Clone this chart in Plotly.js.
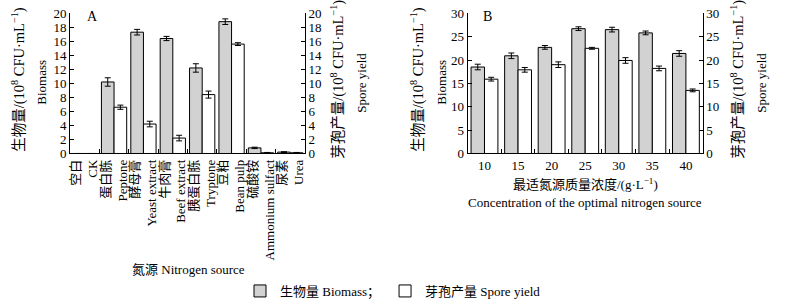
<!DOCTYPE html>
<html><head><meta charset="utf-8">
<script src="https://cdn.plot.ly/plotly-3.0.1.min.js"></script>
<style>html,body{margin:0;padding:0;background:#fff}#c{width:794px;height:306px}</style>
</head><body><div id="c"></div>
<script>
var catsA = ['空白<br>CK','蛋白胨<br>Peptone','酵母膏<br>Yeast extract','牛肉膏<br>Beef extract','胰蛋白胨<br>Tryptone','豆粕<br>Bean pulp','硫酸铵<br>Ammonium sulfact','尿素<br>Urea'];
var biomassA = [0, 10.2, 17.3, 16.4, 12.2, 18.8, 0.8, 0.2];
var biomassErrA = [0, 0.6, 0.4, 0.3, 0.6, 0.4, 0.1, 0.05];
var sporeA = [0, 6.6, 4.2, 2.2, 8.4, 15.6, 0.1, 0.1];
var sporeErrA = [0, 0.3, 0.4, 0.4, 0.5, 0.2, 0.05, 0.05];

var catsB = ['10','15','20','25','30','35','40'];
var biomassB = [18.5, 20.9, 22.7, 26.7, 26.5, 25.8, 21.4];
var biomassErrB = [0.6, 0.6, 0.4, 0.4, 0.5, 0.4, 0.6];
var sporeB = [15.9, 17.9, 19.0, 22.5, 19.9, 18.2, 13.5];
var sporeErrB = [0.4, 0.5, 0.6, 0.2, 0.6, 0.5, 0.3];

var ticksA = [0,2,4,6,8,10,12,14,16,18,20];
var ticksB = [0,5,10,15,20,25,30];

var gray = '#d2d2d2';
var serif = 'Liberation Serif, Times New Roman, Noto Sans CJK SC, serif';
var err = function(a){return {type:'data', array:a, visible:true, color:'#000', thickness:1, width:3};};

var traces = [
  {type:'bar', name:'生物量 Biomass；', x:catsA, y:biomassA, xaxis:'x', yaxis:'y', width:0.43, offset:-0.43,
   marker:{color:gray, line:{color:'#000', width:1}}, error_y:err(biomassErrA)},
  {type:'bar', name:'芽孢产量 Spore yield', x:catsA, y:sporeA, xaxis:'x', yaxis:'y2', width:0.43, offset:0,
   marker:{color:'#fff', line:{color:'#000', width:1}}, error_y:err(sporeErrA)},
  {type:'bar', name:'生物量 Biomass；', x:catsB, y:biomassB, xaxis:'x2', yaxis:'y3', width:0.4, offset:-0.4, showlegend:false,
   marker:{color:gray, line:{color:'#000', width:1}}, error_y:err(biomassErrB)},
  {type:'bar', name:'芽孢产量 Spore yield', x:catsB, y:sporeB, xaxis:'x2', yaxis:'y4', width:0.4, offset:0, showlegend:false,
   marker:{color:'#fff', line:{color:'#000', width:1}}, error_y:err(sporeErrB)}
];

var yd = [1-154/306, 1-13.3/306];
var axBase = {showline:true, linecolor:'#000', linewidth:1, ticks:'inside', ticklen:4, tickcolor:'#000',
  showgrid:false, zeroline:false, tickfont:{family:serif, size:13, color:'#000'}};
function ax(o){ return Object.assign({}, axBase, o); }

function ann(text, x, y, angle, size){
  return {text:text, x:x, y:y, xref:'paper', yref:'paper', showarrow:false, textangle:angle||0,
    font:{family:serif, size:size||13, color:'#000'}, xanchor:'center', yanchor:'middle'};
}
var W = 794, H = 306;
var layout = {
  width:W, height:H, margin:{l:0,r:0,t:0,b:0}, paper_bgcolor:'#fff', plot_bgcolor:'#fff',
  barmode:'overlay', font:{family:serif, color:'#000'},
  xaxis: ax({domain:[70/W, 305/W], anchor:'y', type:'category', tickson:'boundaries', tickangle:-90,
    tickfont:{family:serif, size:13, color:'#000'}, range:[-0.5,7.5]}),
  yaxis: ax({domain:yd, anchor:'x', range:[0,20], tickvals:ticksA}),
  yaxis2: ax({domain:yd, anchor:'x', overlaying:'y', side:'right', range:[0,20], tickvals:ticksA}),
  xaxis2: ax({domain:[467.7/W, 702.7/W], anchor:'y3', type:'category', tickson:'boundaries', range:[-0.5,6.5]}),
  yaxis3: ax({domain:yd, anchor:'x2', range:[0,30], tickvals:ticksB}),
  yaxis4: ax({domain:yd, anchor:'x2', overlaying:'y3', side:'right', range:[0,30], tickvals:ticksB}),
  showlegend:true,
  legend:{orientation:'h', x:393/W, xanchor:'center', y:1-292/H, yanchor:'middle', font:{family:serif, size:13, color:'#000'},
    bgcolor:'rgba(0,0,0,0)', itemwidth:30, traceorder:'normal'},
  annotations:[
    ann('A', 92/W, 1-17/H, 0, 14),
    ann('B', 487/W, 1-17/H, 0, 14),
    ann('生物量/(10<sup>8</sup> CFU·mL<sup>−1</sup>)', 19/W, 1-80/H, -90, 14.5),
    ann('Biomass', 42/W, 1-83/H, -90, 13),
    ann('芽孢产量/(10<sup>8</sup> CFU·mL<sup>−1</sup>)', 338/W, 1-80/H, -90, 14.5),
    ann('Spore yield', 362/W, 1-83/H, -90, 13),
    ann('生物量/(10<sup>8</sup> CFU·mL<sup>−1</sup>)', 418/W, 1-80/H, -90, 14.5),
    ann('Biomass', 442/W, 1-83/H, -90, 13),
    ann('芽孢产量/(10<sup>8</sup> CFU·mL<sup>−1</sup>)', 738/W, 1-80/H, -90, 14.5),
    ann('Spore yield', 762/W, 1-83/H, -90, 13),
    ann('氮源 Nitrogen source', 188/W, 1-270/H, 0, 13),
    ann('最适氮源质量浓度/(g·L<sup>−1</sup>)', 585/W, 1-185/H, 0, 13),
    ann('Concentration of the optimal nitrogen source', 585/W, 1-203/H, 0, 13)
  ]
};
Plotly.newPlot('c', traces, layout, {displayModeBar:false, staticPlot:true});
</script></body></html>
